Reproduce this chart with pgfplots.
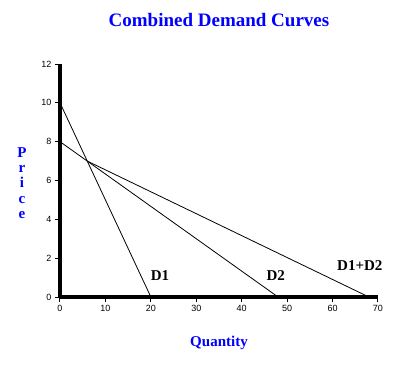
\documentclass[border=0pt]{standalone}
\usepackage{fontspec}
\setmainfont{Liberation Serif}
\newfontfamily\tickfont{Liberation Sans}
\usepackage{pgfplots}
\pgfplotsset{compat=1.18}
\begin{document}
\begin{tikzpicture}[x=1pt,y=1pt]
\useasboundingbox (-60,-79) rectangle (356,297);
\begin{axis}[
  at={(0,0)}, anchor=south west,
  scale only axis, width=318pt, height=233pt,
  xmin=0, xmax=70, ymin=0, ymax=12,
  axis lines*=left,
  axis line style={line width=4pt, black},
  xtick={0,10,...,70}, ytick={0,2,...,12},
  tick style={black, line width=1pt},
  tick align=outside, major tick length=5pt,
  ticklabel style={font=\tickfont\fontsize{9}{10}\selectfont},
  /pgf/number format/assume math mode=true,
  clip=false,
]
\addplot[black, line width=0.8pt] coordinates {(0,10) (20,0)};
\addplot[black, line width=0.8pt] coordinates {(0,8) (48,0)};
\addplot[black, line width=0.8pt] coordinates {(6,7) (68,0)};
\node[font=\bfseries\fontsize{15}{15}\selectfont] at (axis cs:22,1.08) {D1};
\node[font=\bfseries\fontsize{15}{15}\selectfont] at (axis cs:47.5,1.08) {D2};
\node[font=\bfseries\fontsize{15}{15}\selectfont] at (axis cs:66,1.62) {D1+D2};
\end{axis}
\node[blue, font=\bfseries\fontsize{19}{19}\selectfont] at (159,277) {Combined Demand Curves};
\node[blue, font=\bfseries\fontsize{15}{15}\selectfont] at (159,-46) {Quantity};
\node[blue, font=\bfseries\fontsize{15}{15.3}\selectfont, align=center] at (-38,114) {P\\r\\i\\c\\e};
\end{tikzpicture}
\end{document}
